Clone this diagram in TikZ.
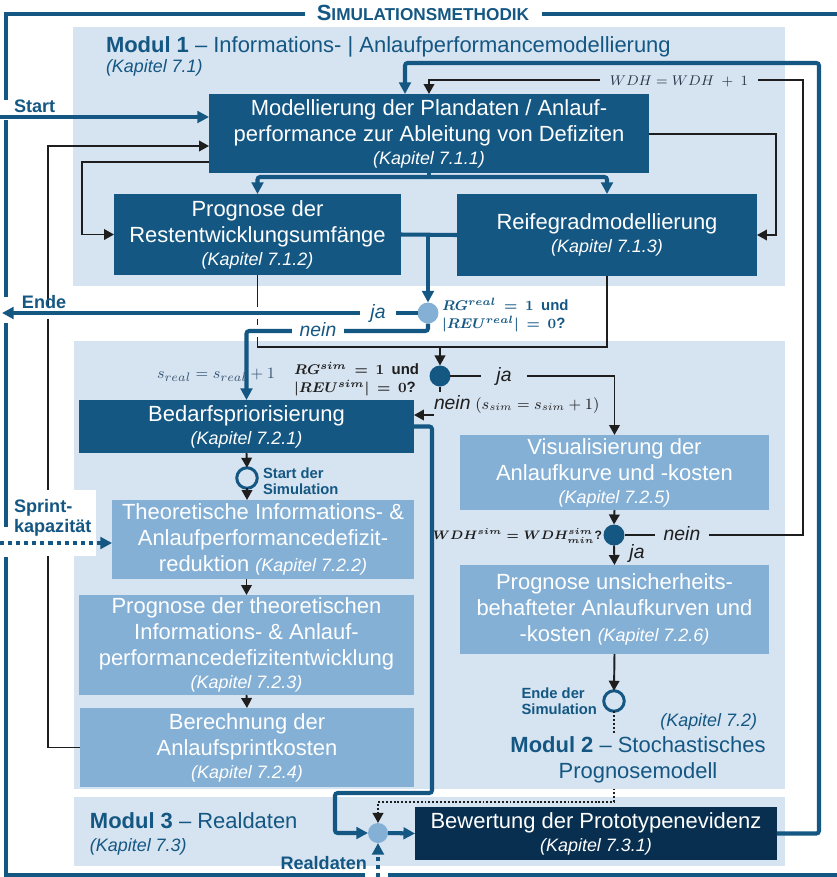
\documentclass[tikz,border=0pt]{standalone}
\usepackage{amsmath}
\usepackage{bm}
\usepackage[no-math]{fontspec}
\setmainfont{Liberation Sans}
\usetikzlibrary{arrows.meta,fit,calc}

\definecolor{dblue}{RGB}{20,87,131}
\definecolor{navy}{RGB}{8,47,80}
\definecolor{mblue}{RGB}{132,176,214}
\definecolor{panel}{RGB}{214,227,240}
\definecolor{ink}{RGB}{30,30,30}
\definecolor{slate}{RGB}{55,85,115}
\definecolor{graytext}{RGB}{40,55,75}

\newcommand\bxf{\fontsize{12.5}{14.7}\selectfont}
\newcommand\kap{\fontsize{10.2}{12}\selectfont\itshape}
\newcommand\lblf{\fontsize{10.3}{11.3}\selectfont\bfseries}
\newcommand\smf{\fontsize{8.4}{9.4}\selectfont\bfseries}
\newcommand\jnf{\fontsize{11}{12}\selectfont\itshape}

\begin{document}
\begin{tikzpicture}[x=0.02cm,y=-0.02cm,
  every node/.style={inner sep=0pt, outer sep=0pt},
  panelbox/.style={fill=panel},
  procbox/.style={fill=dblue, text=white, align=center, font=\bxf},
  simbox/.style={fill=mblue, text=white, align=center, font=\bxf},
  evalbox/.style={fill=navy, text=white, align=center, font=\bxf},
  junction/.style={circle, minimum size=0.42cm},
  event/.style={circle, draw=dblue, line width=1.7pt, fill=panel, minimum size=0.41cm},
  flow/.style={draw=dblue, line width=2.3pt, rounded corners=1.5pt},
  flowarr/.style={flow, -{Triangle[length=6.6pt,width=6.6pt]}},
  flowdot/.style={draw=dblue, line width=2.3pt, dash pattern=on 2.3pt off 2.3pt},
  flowdotarr/.style={flowdot, -{Triangle[length=6.6pt,width=6.6pt]}},
  ctrl/.style={draw=ink, line width=1.1pt},
  ctrlarr/.style={ctrl, -{Triangle[length=5.7pt,width=6pt]}},
  dotarr/.style={draw=ink, line width=1.1pt, dash pattern=on 1.1pt off 1.1pt, -{Triangle[length=5.7pt,width=6pt]}},
  haloline/.style={draw=white, line width=7pt},
  frameline/.style={draw=dblue, line width=1.9pt},
  blabel/.style={text=dblue, font=\lblf},
  modtitle/.style={text=dblue, font=\bxf},
  modkap/.style={text=dblue, font=\kap},
  mathlbl/.style={font={\fontsize{8.5}{10.2}\selectfont\boldmath}}
]
\useasboundingbox (0,0) rectangle (837,877);

% module panels
\node[panelbox, fit={(73,27)(785,286)}] (p1) {};
\node[panelbox, fit={(74,341)(785,789)}] (p2) {};
\node[panelbox, fit={(74,797)(785,866)}] (p3) {};

% outer frame of the simulation method
\draw[frameline] (305,14) -- (6,14) -- (6,100);
\draw[frameline] (6,120) -- (6,297);
\draw[frameline] (6,323) -- (6,527);
\draw[frameline] (6,557) -- (6,875) -- (365,875);
\draw[frameline] (388,875) -- (837,875);
\draw[frameline] (542,14) -- (837,14);
\node[anchor=base, text=dblue, font=\bfseries] (title) at (423,20)
  {{\fontsize{12.5}{13}\selectfont S}{\fontsize{9.8}{10}\selectfont IMULATIONSMETHODIK}};

% module titles
\node[modtitle, anchor=base west] (m1) at (106,52)
  {\textbf{Modul 1} – Informations- | Anlaufperformancemodellierung};
\node[modkap, anchor=base west] (m1k) at (106,72) {(Kapitel 7.1)};
\node[modkap, anchor=base east] (m2k) at (757,726) {(Kapitel 7.2)};
\node[modtitle, anchor=base west] (m3) at (90,828) {\textbf{Modul 3} – Realdaten};
\node[modkap, anchor=base west] (m3k) at (90,851) {(Kapitel 7.3)};

% process boxes
\node[procbox, minimum width=8.8cm, minimum height=1.58cm] (b1) at (429,133.5)
  {Modellierung der Plandaten / Anlauf-\\performance zur Ableitung von Defiziten\\[-1.6pt]{\kap (Kapitel 7.1.1)}};
\node[procbox, minimum width=5.74cm, minimum height=1.62cm] (b2) at (257.5,234.5)
  {Prognose der\\Restentwicklungsumfänge\\[-1.6pt]{\kap (Kapitel 7.1.2)}};
\node[procbox, minimum width=6cm, minimum height=1.64cm] (b3) at (607,235)
  {Reifegradmodellierung\\[-1.6pt]{\kap (Kapitel 7.1.3)}};
\node[procbox, minimum width=6.7cm, minimum height=1.06cm] (b4) at (246.5,426.5)
  {Bedarfspriorisierung\\[-1.6pt]{\kap (Kapitel 7.2.1)}};
\node[simbox, minimum width=6.04cm, minimum height=1.58cm] (b5) at (263,539.5)
  {Theoretische Informations- \&\\Anlaufperformancedefizit-\\reduktion {\kap (Kapitel 7.2.2)}};
\node[simbox, minimum width=6.7cm, minimum height=2cm] (b6) at (246.5,645)
  {Prognose der theoretischen\\Informations- \& Anlauf-\\performancedefizitentwicklung\\[-1.6pt]{\kap (Kapitel 7.2.3)}};
\node[simbox, minimum width=6.68cm, minimum height=1.58cm] (b7) at (247,747.5)
  {Berechnung der\\Anlaufsprintkosten\\[-1.6pt]{\kap (Kapitel 7.2.4)}};
\node[simbox, minimum width=6.18cm, minimum height=1.5cm] (b8) at (614.5,472.5)
  {Visualisierung der\\Anlaufkurve und -kosten\\[-1.6pt]{\kap (Kapitel 7.2.5)}};
\node[simbox, minimum width=6.18cm, minimum height=1.78cm] (b9) at (614.5,609.5)
  {Prognose unsicherheits-\\behafteter Anlaufkurven und\\{}-kosten {\kap (Kapitel 7.2.6)}};
\node[evalbox, minimum width=7.24cm, minimum height=1.06cm] (b10) at (596,833.5)
  {Bewertung der Prototypenevidenz\\[-1.6pt]{\kap (Kapitel 7.3.1)}};

% decision points and events
\node[junction, fill=mblue] (c1) at (428,313) {};
\node[junction, fill=dblue] (c2) at (440,376) {};
\node[event] (cs) at (247,478) {};
\node[junction, fill=dblue] (c3) at (614,535) {};
\node[event] (ce) at (614,701) {};
\node[junction, fill=mblue, minimum size=0.4cm] (c4) at (378,833) {};

% lane coordinates
\coordinate (laneA) at (48,146);
\coordinate (laneB) at (82,162);
\coordinate (laneC) at (776,134);
\coordinate (laneD) at (803,80);
\coordinate (laneE) at (819,63);
\coordinate (b1inE) at (405,94);
\coordinate (splitY) at (429,177);
\coordinate (mergeY) at (440,347);
\coordinate (neinY) at (428,331);
\coordinate (endpt) at (2,313);
\coordinate (startIn) at (0,117);
\coordinate (sprintIn) at (0,543);
\coordinate (realIn) at (378,877);
\coordinate (loopA) at (432,793);
\coordinate (loopB) at (335,833);
\coordinate (dotY) at (378,802);

% black control connectors
\draw[ctrlarr] (b7.west) -| (laneA) -- (laneA -| b1.west);
\draw[ctrlarr] (laneB -| b1.west) -- (laneB) |- (b2.west);
\draw[ctrlarr] (laneC -| b1.east) -- (laneC) |- (b3.east);
\draw[ctrlarr] (c3.east) -| (laneD) -| (b1.north);
\draw[ctrl] (b2.south) |- (mergeY);
\draw[ctrl] (b3.south) |- (mergeY);
\draw[ctrlarr] (mergeY) -- (c2.north);
\draw[ctrlarr] (c2.south) |- ($(b4.north east)+(0,15)$);
\draw[ctrlarr] (c2.east) -| (b8.north);
\draw[ctrlarr] (b4.south) -- (cs.north);
\draw[ctrlarr] (cs.south) -- (cs.south |- b5.north);
\draw[ctrlarr] (b6.north |- b5.south) -- (b6.north);
\draw[ctrlarr] (b6.south) -- (b7.north);
\draw[ctrlarr] (b8.south) -- (c3.north);
\draw[ctrlarr] (c3.south) -- (b9.north);
\draw[ctrlarr] (b9.south) -- (ce.north);
\draw[dotarr] (ce.south) |- (dotY) -- (c4.north);

% blue main flow
\draw[flowarr] (startIn) -- (startIn -| b1.west);
\draw[flowarr] (b10.east) -| (laneE) -| (b1inE);
\draw[flow] (b1.south) -- (splitY);
\draw[flowarr] (splitY) -| (b2.north);
\draw[flowarr] (splitY) -| (b3.north);
\draw[flow] (b2.east) -- (b3.west);
\draw[flowarr] (c1.north |- b2.east) -- (c1.north);
\draw[haloline] (c1.west) -- (endpt);
\draw[flowarr] (c1.west) -- (endpt);
\draw[haloline] (neinY) -- (neinY -| b4.north);
\draw[flowarr] (c1.south) -- (neinY) -| (b4.north);
\draw[flowarr] (b4.east) -| (loopA) -| (loopB) -- (c4.west);
\draw[flowarr] (c4.east) -- (b10.west);
\draw[flowdotarr] (realIn) -- (c4.south);

% side inputs
\fill[white] (12,490) rectangle (96,556);
\node[blabel, align=left, anchor=base west] (sprint) at (14,532) {Sprint-\\kapazität};
\draw[flowdotarr] (sprintIn) -- (sprintIn -| b5.west);
\node[blabel, anchor=base west] (startlbl) at (14,112) {Start};
\node[blabel, anchor=base west] (endelbl) at (22,308) {Ende};
\node[blabel, anchor=base east] (reallbl) at (367,869) {Realdaten};

% branch labels
\node[text=dblue, font=\jnf, fill=white, inner xsep=0.2cm, inner ysep=0.05cm] (ja1) at (378,313) {ja};
\node[text=dblue, font=\jnf, fill=white, inner xsep=0.15cm, inner ysep=0.05cm] (nein1) at (318,330) {nein};
\node[text=ink, font=\jnf, fill=panel, inner xsep=0.3cm, inner ysep=0.05cm] (ja2) at (504,376) {ja};
\node[text=ink, font=\jnf, fill=panel, inner xsep=0.18cm, inner ysep=0.05cm] (nein3) at (682,534) {nein};
\node[text=ink, font=\jnf] (ja3) at (637,553) {ja};
\node[text=ink, anchor=west, fill=panel, inner ysep=0.06cm] (nein2) at (434,404)
  {{\jnf nein} {\fontsize{8.6}{10}\selectfont$(s_{sim} = s_{sim} + 1)$}};

% conditions and counters
\node[text=dblue, anchor=west, align=left, mathlbl] (condreal) at (442,315)
  {$RG^{real}\,=\,1$\enspace\textbf{und}\\$|REU^{real}|\,=\,0$\textbf{?}};
\node[text=ink, anchor=east, align=left, mathlbl] (condsim) at (419,379)
  {$RG^{sim}\,=\,1$\enspace\textbf{und}\\$|REU^{sim}|\,=\,0$\textbf{?}};
\node[text=slate, font={\fontsize{9.4}{11}\selectfont}] (sreal) at (216,375) {$s_{real} = s_{real} + 1$};
\node[text=graytext, font={\fontsize{7.6}{9}\selectfont}, fill=panel, inner xsep=0.2cm, inner ysep=0.05cm] (wdh) at (679,81)
  {$WDH = WDH\;+\;1$};
\node[text=ink, anchor=east, font={\fontsize{6.9}{9}\selectfont\boldmath}] (wdhsim) at (602,536)
  {$WDH^{sim} = WDH^{sim}_{min}$\textbf{?}};

% simulation events
\node[text=dblue, font=\smf, align=left, anchor=west] (startsim) at (263,481) {Start der\\Simulation};
\node[text=dblue, font=\smf, align=left, anchor=east] (endsim) at (597,701) {Ende der\\Simulation};

% module 2 title over the dotted link
\node[modtitle, align=center, fill=panel, inner xsep=2pt, inner ysep=0.07cm] (m2) at (638,760)
  {\textbf{Modul 2} – Stochastisches\\Prognosemodell};
\end{tikzpicture}
\end{document}
